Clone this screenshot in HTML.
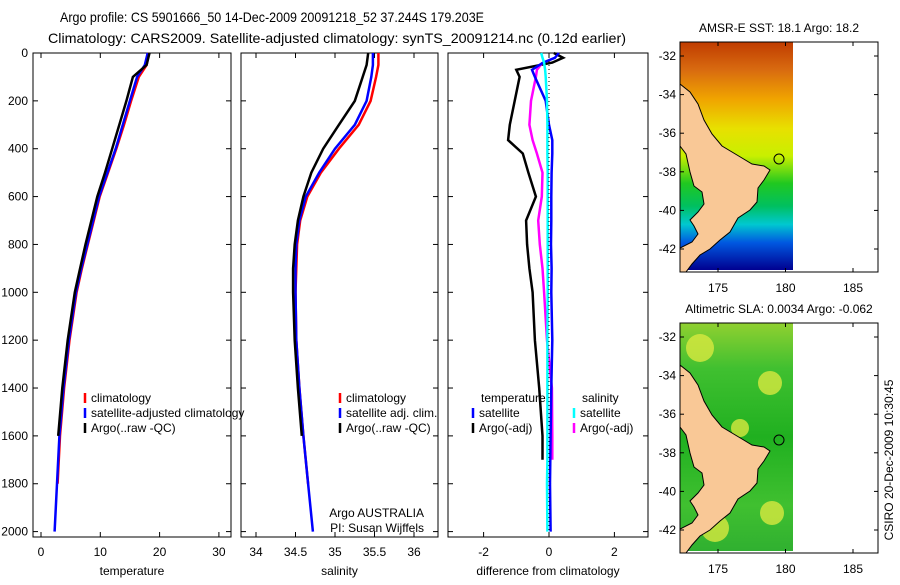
<!DOCTYPE html>
<html><head><meta charset="utf-8"><style>
body{margin:0;background:#fff}
svg{font-family:"Liberation Sans",sans-serif;font-size:12px}
</style></head><body>
<svg id="fig" width="900" height="580" viewBox="0 0 900 580">
<text x="60" y="22" font-size="14" textLength="424" lengthAdjust="spacingAndGlyphs">Argo profile: CS 5901666_50 14-Dec-2009 20091218_52 37.244S 179.203E</text>
<text x="48" y="43" font-size="14" textLength="578" lengthAdjust="spacingAndGlyphs">Climatology: CARS2009. Satellite-adjusted climatology: synTS_20091214.nc (0.12d earlier)</text>
<g id="axes"></g>
<g id="maps"></g>
<text transform="translate(893,460) rotate(-90)" text-anchor="middle">CSIRO 20-Dec-2009 10:30:45</text>
</svg>
<script>
const depths=[0,50,100,200,300,400,500,600,700,800,900,1000,1200,1400,1600,1800,2000];
const tClim=[18.2,17.8,16.5,15.2,14.0,12.7,11.3,9.9,8.9,7.9,6.9,6.0,4.8,3.9,3.2,2.8,null];
const tSat=[18.0,17.5,16.2,15.0,13.8,12.6,11.2,9.8,8.8,7.8,6.8,5.9,4.7,3.8,3.1,2.7,2.3];
const tArgo=[18.3,17.8,15.5,14.4,13.2,12.0,10.8,9.5,8.5,7.5,6.6,5.7,4.5,3.6,2.9,null,null];
const sClim=[35.55,35.55,35.52,35.45,35.3,35.05,34.82,34.65,34.56,34.52,34.51,34.5,34.51,34.55,34.6,34.66,null];
const sSat=[35.48,35.48,35.46,35.4,35.25,35.0,34.8,34.63,34.55,34.51,34.5,34.5,34.51,34.55,34.6,34.66,34.72];
const sArgo=[35.42,35.4,35.35,35.25,35.05,34.85,34.7,34.6,34.53,34.49,34.47,34.47,34.49,34.53,34.58,null,null];
const dDepths=[0,20,40,70,100,200,300,364,420,500,600,700,800,900,1000,1200,1400,1600,1700,1800,2000];
const dTSat=[0.3,0.18,-0.18,-0.52,-0.43,-0.1,0.0,0.1,0.1,0.08,0.07,0.07,0.06,0.08,0.07,0.1,0.07,0.05,0.04,0.03,0.05];
const dTArgo=[0.15,0.43,0.1,-1.0,-0.9,-1.05,-1.2,-1.25,-0.8,-0.63,-0.4,-0.7,-0.67,-0.6,-0.5,-0.43,-0.3,-0.2,-0.2,null,null];
const dSSat=[-0.24,-0.2,-0.15,-0.12,-0.1,-0.06,-0.05,-0.05,-0.05,-0.04,-0.04,-0.04,-0.04,-0.04,-0.04,-0.05,-0.05,-0.05,-0.05,-0.06,-0.05];
const dSArgo=[null,null,-0.2,-0.37,-0.4,-0.55,-0.6,-0.5,-0.37,-0.2,-0.22,-0.33,-0.28,-0.2,-0.15,-0.06,0.09,0.1,0.1,null,null];
const depthTicks=[0,200,400,600,800,1000,1200,1400,1600,1800,2000];
const tTicks=[0,10,20,30],sTicks=[34,34.5,35,35.5,36],dTicks=[-2,0,2];
const NS="http://www.w3.org/2000/svg";
const root=document.getElementById('axes');
function el(t,a,p){const e=document.createElementNS(NS,t);for(const k in a)e.setAttribute(k,a[k]);(p||root).appendChild(e);return e;}
const yD=d=>53+d*0.2393;
function panel(name,x0,x1,xs,ticks,label,lines,fmt){
  const g=el('g',{});
  
  
  const fr=el('rect',{x:x0,y:53,width:x1-x0,height:484,fill:'none',stroke:'#000'},g);
  
  
  ticks.forEach(t=>{const x=xs(t);el('line',{x1:x,x2:x,y1:537,y2:532,stroke:'#000'},g);el('line',{x1:x,x2:x,y1:53,y2:58,stroke:'#000'},g);
    const tx=el('text',{x:x,y:556,'text-anchor':'middle'},g);tx.textContent=fmt?fmt(t):t;
    
    });
  depthTicks.forEach(d=>{const y=yD(d);el('line',{x1:x0,x2:x0+5,y1:y,y2:y,stroke:'#000'},g);el('line',{x1:x1,x2:x1-5,y1:y,y2:y,stroke:'#000'},g);});
  const lb=el('text',{x:(x0+x1)/2,y:575,'text-anchor':'middle'},g);lb.textContent=label;
  
  
  lines.forEach(([ds,vs,c,n])=>{let segs=[],cur=[];ds.forEach((d,i)=>{if(vs[i]==null){if(cur.length)segs.push(cur);cur=[];}else cur.push(xs(vs[i]).toFixed(1)+','+yD(d).toFixed(1));});if(cur.length)segs.push(cur);
    segs.forEach(s=>{const p=el('polyline',{points:s.join(' '),fill:'none',stroke:c,'stroke-width':2.5},g);
      
      });});
  return g;
}
depthTicks.forEach(d=>{const t=el('text',{x:28,y:yD(d)+4,'text-anchor':'end'});t.textContent=d;
  
  });
const xT=t=>41+t*5.93, xS=s=>256+(s-34)*79, xDf=d=>549+d*32.7;
panel('temperature-panel',33,231,xT,tTicks,'temperature',[[depths,tClim,'#f00','climatology-line'],[depths,tSat,'#00f','satellite-line'],[depths,tArgo,'#000','argo-line']]);
panel('salinity-panel',241,438,xS,sTicks,'salinity',[[depths,sClim,'#f00','climatology-line'],[depths,sSat,'#00f','satellite-line'],[depths,sArgo,'#000','argo-line']],t=>t);
const g3=panel('difference-panel',448,648,xDf,dTicks,'difference from climatology',[[dDepths,dTArgo,'#000','temp-argo-diff'],[dDepths,dSArgo,'#f0f','sal-argo-diff'],[dDepths,dTSat,'#00f','temp-sat-diff'],[dDepths,dSSat,'#0ff','sal-sat-diff']]);
el('line',{x1:549,x2:549,y1:53,y2:537,stroke:'#000','stroke-dasharray':'1,3'},g3);
function legend(x,y,c,t,n){el('line',{x1:x,x2:x,y1:y-9,y2:y+1,stroke:c,'stroke-width':2.5});const tx=el('text',{x:x+6,y:y});tx.textContent=t;
  
  }
legend(85,402,'#f00','climatology','legend-climatology');
legend(85,417,'#00f','satellite-adjusted climatology','legend-satellite');
legend(85,432,'#000','Argo(..raw -QC)','legend-argo');
legend(340,402,'#f00','climatology','legend-climatology-2');
legend(340,417,'#00f','satellite adj. clim.','legend-satellite-2');
legend(340,432,'#000','Argo(..raw -QC)','legend-argo-2');
{let t=el('text',{x:481,y:402});t.textContent='temperature';
 t=el('text',{x:582,y:402});t.textContent='salinity';}
legend(473,417,'#00f','satellite','legend-temp-satellite');
legend(473,432,'#000','Argo(-adj)','legend-temp-argo');
legend(574,417,'#0ff','satellite','legend-sal-satellite');
legend(574,432,'#f0f','Argo(-adj)','legend-sal-argo');
{let t=el('text',{x:424,y:517,'text-anchor':'end'});t.textContent='Argo AUSTRALIA';
 t=el('text',{x:424,y:532,'text-anchor':'end'});t.textContent='PI: Susan Wijffels';}

const mroot=document.getElementById('maps');
const land="M0,42 L10,50 L18,62 L24,78 L32,92 L42,104 L52,110 L62,116 L72,122 L84,124 L90,128 L84,138 L78,146 L77,160 L70,168 L58,176 L50,190 L40,198 L30,207 L20,213 L12,222 L6,230 L0,230 L0,206 L12,200 L18,192 L14,184 L10,178 L18,170 L24,162 L22,150 L14,144 L10,130 L6,112 L0,104 Z";
function map(y0,title,kind){
  const g=el('g',{},mroot);
  
  
  const id='gr'+kind;
  const defs=el('defs',{},g);const lg=el('linearGradient',{id:id,x1:0,y1:0,x2:0,y2:1},defs);
  const stops=kind==='sst'?[[0,'#c03c00'],[0.12,'#d86a10'],[0.25,'#f0a400'],[0.38,'#e8e000'],[0.5,'#c8f000'],[0.62,'#20c820'],[0.72,'#00c060'],[0.8,'#00c8d0'],[0.88,'#0058e0'],[1,'#000090']]:[[0,'#90d030'],[0.2,'#40c030'],[0.5,'#20b020'],[0.8,'#40c030'],[1,'#30b030']];
  stops.forEach(s=>el('stop',{offset:s[0],'stop-color':s[1]},lg));
  el('rect',{x:680,y:y0,width:113,height:228,fill:'url(#'+id+')'},g);
  if(kind==='sla'){[[700,y0+25,14],[770,y0+60,12],[715,y0+205,14],[772,y0+190,12],[740,y0+105,9]].forEach(c=>el('circle',{cx:c[0],cy:c[1],r:c[2],fill:'#d8e840',opacity:0.8},g));}
  const p=el('path',{d:land,transform:'translate(680,'+y0+')',fill:'#f9c896',stroke:'#000','stroke-width':1},g);
  
  
  el('circle',{cx:779,cy:y0+117,r:5,fill:'none',stroke:'#000'},g);
  el('rect',{x:680,y:y0,width:198,height:230,fill:'none',stroke:'#000'},g);
  [-32,-34,-36,-38,-40,-42].forEach((la,i)=>{const y=y0+14+i*38.6;el('line',{x1:680,x2:684,y1:y,y2:y,stroke:'#000'},g);el('line',{x1:878,x2:874,y1:y,y2:y,stroke:'#000'},g);
    const t=el('text',{x:676,y:y+4,'text-anchor':'end'},g);t.textContent=la;});
  [175,180,185].forEach((lo,i)=>{const x=718+i*67.5;el('line',{x1:x,x2:x,y1:y0+230,y2:y0+226,stroke:'#000'},g);el('line',{x1:x,x2:x,y1:y0,y2:y0+4,stroke:'#000'},g);
    const t=el('text',{x:x,y:y0+250,'text-anchor':'middle'},g);t.textContent=lo;});
  const t=el('text',{x:779,y:y0-10,'text-anchor':'middle'},g);t.textContent=title;
  
  
}
map(42,'AMSR-E SST: 18.1 Argo: 18.2','sst');
map(323,'Altimetric SLA: 0.0034 Argo: -0.062','sla');
</script>
</body></html>
